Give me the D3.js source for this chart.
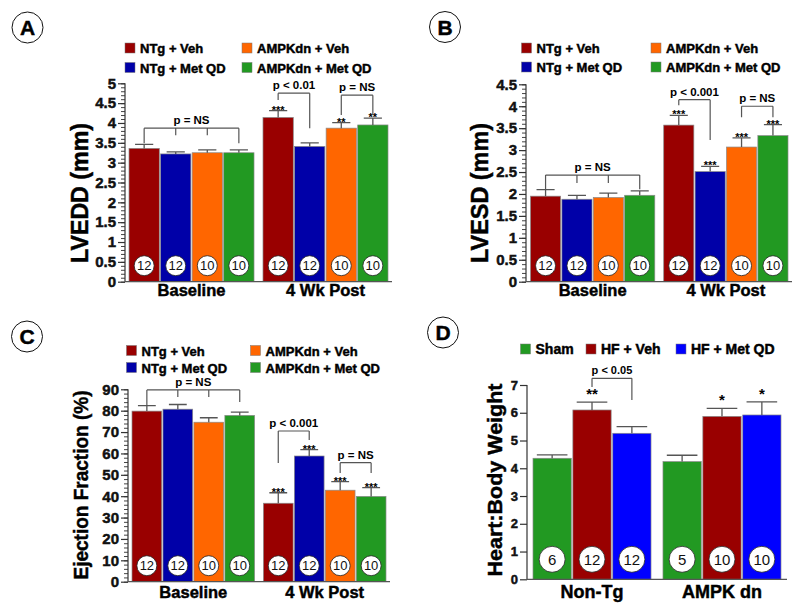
<!DOCTYPE html>
<html>
<head>
<meta charset="utf-8">
<script src="https://cdn.jsdelivr.net/npm/d3@7"></script>
<style>
  body { margin: 0; background: #fff; }
  text { font-family: "Liberation Sans", Arial, Helvetica, sans-serif; }
  .heavy { stroke: #000; stroke-width: 0.45; paint-order: stroke; }
</style>
</head>
<body>
<svg width="800" height="609"></svg>
<script>
const svg = d3.select('svg');

// ---- data ----
const abcGroups = ['Baseline', '4 Wk Post'];
const abcSeries = ['NTg + Veh', 'NTg + Met QD', 'AMPKdn + Veh', 'AMPKdn + Met QD'];
const abcColors = ['#990000', '#0000a8', '#ff6600', '#229922'];
const abcN = [[12, 12, 10, 10], [12, 12, 10, 10]];

const lveddMean = [[3.36, 3.22, 3.25, 3.25], [4.14, 3.41, 3.87, 3.95]];
const lveddSem = [[0.10, 0.05, 0.07, 0.07], [0.17, 0.09, 0.14, 0.17]];
const lveddStars = [['', '', '', ''], ['***', '', '**', '**']];

const lvesdMean = [[1.95, 1.88, 1.92, 1.97], [3.57, 2.51, 3.07, 3.33]];
const lvesdSem = [[0.15, 0.09, 0.10, 0.10], [0.22, 0.12, 0.21, 0.25]];
const lvesdStars = [['', '', '', ''], ['***', '***', '***', '***']];

const efMean = [[79.8, 80.7, 74.6, 77.8], [36.7, 58.8, 42.8, 39.9]];
const efSem = [[2.6, 2.2, 2.1, 1.5], [4.9, 3.0, 4.0, 4.1]];
const efStars = [['', '', '', ''], ['***', '***', '***', '***']];

const dGroups = ['Non-Tg', 'AMPK dn'];
const dSeries = ['Sham', 'HF + Veh', 'HF + Met QD'];
const dColors = ['#229922', '#990000', '#0000ff'];
const hbwMean = [[4.36, 6.10, 5.26], [4.24, 5.87, 5.92]];
const hbwSem = [[0.12, 0.28, 0.24], [0.23, 0.29, 0.47]];
const hbwStars = [['', '**', ''], ['', '*', '*']];
const dN = [[6, 12, 12], [5, 10, 10]];

// brackets: group, legs [series, bottom value], top value, label
const lveddBrackets = [
  { g: 0, legs: [[0, 3.49], [1, 3.69], [2, 3.69], [3, 3.49]], top: 3.87, text: 'p = NS' },
  { g: 1, legs: [[0, 4.58], [1, 3.87]], top: 4.75, text: 'p < 0.01' },
  { g: 1, legs: [[2, 4.20], [3, 4.20]], top: 4.70, text: 'p = NS' }
];
const lvesdBrackets = [
  { g: 0, legs: [[0, 2.11], [1, 2.25], [2, 2.25], [3, 2.11]], top: 2.43, text: 'p = NS' },
  { g: 1, legs: [[0, 4.02], [1, 3.23]], top: 4.15, text: 'p < 0.001' },
  { g: 1, legs: [[2, 3.75], [3, 3.75]], top: 4.00, text: 'p = NS' }
];
const efBrackets = [
  { g: 0, legs: [[0, 82.2], [1, 86.4], [2, 86.4], [3, 84.1]], top: 89.7, text: 'p = NS' },
  { g: 1, legs: [[0, 55.5], [1, 66.3]], top: 70.5, text: 'p < 0.001' },
  { g: 1, legs: [[2, 50.9], [3, 50.9]], top: 55.7, text: 'p = NS' }
];
const hbwBrackets = [
  { g: 0, legs: [[1, 6.93], [2, 6.46]], top: 7.24, text: 'p < 0.05' }
];

// ---- drawing ----
function panel(p) {
  const g = svg.append('g');
  const y = d3.scaleLinear().domain([0, p.yMax]).range([p.yZero, p.yTop]);
  const xg = d3.scaleBand().domain(d3.range(p.groups.length))
    .range([p.barStart, p.barEnd]).paddingInner(p.groupPad);
  const xs = d3.scaleBand().domain(d3.range(p.series.length))
    .range([0, xg.bandwidth()]).paddingInner(0.04);
  const cx = (gi, si) => xg(gi) + xs(si) + xs.bandwidth() / 2;

  // y axis
  if (p.minor) {
    g.append('g').attr('transform', `translate(${p.axisX},0)`)
      .call(d3.axisLeft(y).tickValues(d3.range(0, p.yMax + 1e-9, p.minor)).tickSize(4).tickFormat(''))
      .call(a => a.select('.domain').remove())
      .selectAll('line').attr('stroke', '#444');
  }
  const ya = g.append('g').attr('transform', `translate(${p.axisX},0)`)
    .call(d3.axisLeft(y).tickValues(d3.range(0, p.yMax + 1e-9, p.major))
      .tickSize(7).tickPadding(2).tickFormat(p.fmt));
  ya.select('.domain').attr('stroke', '#333').attr('stroke-width', 1.2)
    .attr('d', `M0,${p.yZero}V${p.yTop}`);
  ya.selectAll('line').attr('stroke', '#333').attr('stroke-width', 1.2);
  ya.selectAll('text').attr('font-size', p.tickFont).attr('font-weight', 'bold')
    .attr('fill', '#111').attr('class', 'heavy')
    .attr('font-family', 'Liberation Sans, Arial, sans-serif');

  // y title
  g.append('text').attr('class', 'heavy')
    .attr('transform', `translate(${p.titleX},${p.titleY}) rotate(-90)`)
    .attr('text-anchor', 'middle').attr('font-size', p.titleFont).attr('font-weight', 'bold')
    .attr('textLength', p.titleLen).attr('lengthAdjust', 'spacingAndGlyphs')
    .text(p.title);

  // bars
  p.mean.forEach((row, gi) => row.forEach((v, si) => {
    g.append('rect')
      .attr('x', xg(gi) + xs(si)).attr('y', y(v))
      .attr('width', xs.bandwidth()).attr('height', p.yZero - y(v))
      .attr('fill', p.colors[si]).attr('stroke', '#8a8a8a').attr('stroke-width', 0.7);
    const top = y(v + p.sem[gi][si]);
    const c = cx(gi, si), hw = xs.bandwidth() * p.capFrac / 2;
    g.append('path')
      .attr('d', `M${c},${y(v)}V${top}M${c - hw},${top}H${c + hw}`)
      .attr('stroke', '#555').attr('stroke-width', 1.3).attr('fill', 'none');
    if (p.stars[gi][si]) {
      g.append('text').attr('x', c).attr('y', top + p.starDy)
        .attr('text-anchor', 'middle').attr('font-size', p.starFont).attr('font-weight', 'bold')
        .text(p.stars[gi][si]);
    }
    g.append('circle').attr('cx', c).attr('cy', p.nY).attr('r', p.nR)
      .attr('fill', '#fff').attr('stroke', '#222').attr('stroke-width', 0.8);
    g.append('text').attr('x', c).attr('y', p.nY).attr('dy', '0.36em')
      .attr('text-anchor', 'middle').attr('font-size', p.nFont).attr('fill', '#111')
      .text(p.n[gi][si]);
  }));

  // x axis line
  g.append('path').attr('d', `M${p.axisX},${p.yZero}H${p.axisEnd}`)
    .attr('stroke', '#555').attr('stroke-width', 1.3);

  // group labels
  p.groups.forEach((name, gi) => {
    g.append('text').attr('class', 'heavy')
      .attr('x', xg(gi) + xg.bandwidth() / 2).attr('y', p.groupY)
      .attr('text-anchor', 'middle').attr('font-size', p.groupFont).attr('font-weight', 'bold')
      .text(name);
  });

  // brackets
  p.brackets.forEach(b => {
    const xsL = b.legs.map(l => cx(b.g, l[0]));
    const yt = y(b.top);
    let d = `M${xsL[0]},${yt}H${xsL[xsL.length - 1]}`;
    b.legs.forEach((l, i) => { d += `M${xsL[i]},${yt}V${y(l[1])}`; });
    g.append('path').attr('d', d).attr('stroke', '#555').attr('stroke-width', 1.2).attr('fill', 'none');
    g.append('text').attr('x', (xsL[0] + xsL[xsL.length - 1]) / 2).attr('y', yt - 4)
      .attr('text-anchor', 'middle').attr('font-size', p.pFont).attr('font-weight', 'bold')
      .text(b.text);
  });

  // legend
  p.legend.forEach((pos, si) => {
    g.append('rect').attr('x', pos[0]).attr('y', pos[1]).attr('width', 10).attr('height', 10)
      .attr('fill', p.colors[si]).attr('stroke', '#777').attr('stroke-width', 0.5);
    g.append('text').attr('class', 'heavy').attr('x', pos[0] + 15).attr('y', pos[1] + 10)
      .attr('font-size', p.legendFont).attr('font-weight', 'bold').text(p.series[si]);
  });

  // panel letter
  g.append('circle').attr('cx', p.letterX).attr('cy', p.letterY).attr('r', 15.5)
    .attr('fill', 'none').attr('stroke', '#111').attr('stroke-width', 1);
  g.append('text').attr('class', 'heavy')
    .attr('x', p.letterX).attr('y', p.letterY).attr('dy', '0.36em')
    .attr('text-anchor', 'middle').attr('font-size', 21).attr('font-weight', 'bold')
    .text(p.letter);
}

const abcCommon = {
  groups: abcGroups, series: abcSeries, colors: abcColors, n: abcN,
  groupPad: 0.067, capFrac: 0.6, tickFont: 15, titleFont: 23,
  starFont: 11, starDy: 3, nR: 10, nFont: 13, groupFont: 16.5, pFont: 11.5, legendFont: 13
};

panel(Object.assign({}, abcCommon, {
  letter: 'A', letterX: 27.5, letterY: 27.5,
  mean: lveddMean, sem: lveddSem, stars: lveddStars, brackets: lveddBrackets,
  yMax: 5, major: 0.5, minor: 0.1, fmt: d3.format('~g'),
  yZero: 281.7, yTop: 83.3, axisX: 125, axisEnd: 392, barStart: 129, barEnd: 388,
  title: 'LVEDD (mm)', titleX: 87.5, titleY: 193, titleLen: 140,
  nY: 265.7, groupY: 296,
  legend: [[125, 43], [125, 62.5], [242, 43], [242, 62.5]]
}));

panel(Object.assign({}, abcCommon, {
  letter: 'B', letterX: 445, letterY: 27,
  mean: lvesdMean, sem: lvesdSem, stars: lvesdStars, brackets: lvesdBrackets,
  yMax: 4.5, major: 0.5, minor: 0.1, fmt: d3.format('~g'),
  yZero: 281.7, yTop: 84.3, axisX: 526, axisEnd: 792, barStart: 530.5, barEnd: 788,
  title: 'LVESD (mm)', titleX: 488, titleY: 193, titleLen: 140,
  nY: 265.7, groupY: 296,
  legend: [[521.5, 43], [521.5, 62], [651, 43], [651, 62]]
}));

panel(Object.assign({}, abcCommon, {
  letter: 'C', letterX: 27, letterY: 336.5,
  mean: efMean, sem: efSem, stars: efStars, brackets: efBrackets,
  yMax: 90, major: 10, minor: 2, fmt: d3.format('d'),
  yZero: 581.7, yTop: 389.3, axisX: 128, axisEnd: 390, barStart: 132, barEnd: 386,
  title: 'Ejection Fraction (%)', titleX: 87.5, titleY: 485, titleFont: 21, titleLen: 189,
  nY: 565.7, groupY: 597.5,
  legend: [[126.5, 345.5], [126.5, 362.5], [250.5, 345.5], [250.5, 362.5]]
}));

panel({
  letter: 'D', letterX: 443, letterY: 332.5,
  groups: dGroups, series: dSeries, colors: dColors, n: dN,
  mean: hbwMean, sem: hbwSem, stars: hbwStars, brackets: hbwBrackets,
  yMax: 7, major: 1, minor: 0, fmt: d3.format('d'),
  yZero: 579.3, yTop: 385, axisX: 527, axisEnd: 787, barStart: 533, barEnd: 781,
  groupPad: 0.092, capFrac: 0.8, tickFont: 13, titleFont: 21,
  title: 'Heart:Body Weight', titleX: 501.5, titleY: 480, titleLen: 193,
  starFont: 15, starDy: -3, nR: 13, nY: 559.3, nFont: 15,
  groupY: 598, groupFont: 18, pFont: 11, legendFont: 14,
  legend: [[520.5, 344], [586, 344], [676, 344]]
});
</script>
</body>
</html>
